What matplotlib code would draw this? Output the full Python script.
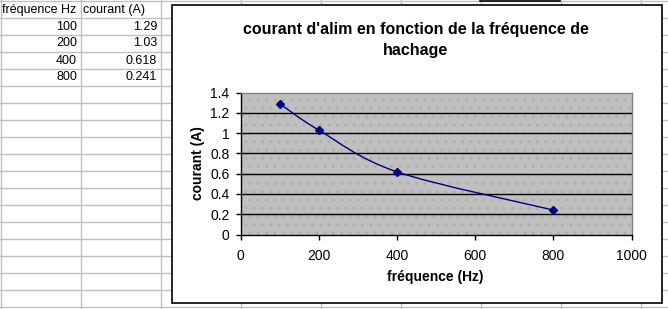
import matplotlib
matplotlib.use("Agg")
import matplotlib.pyplot as plt
from matplotlib.path import Path
from matplotlib.patches import PathPatch, Rectangle
import numpy as np

# ---- data ----
freq = [100, 200, 400, 800]
courant = [1.29, 1.03, 0.618, 0.241]
courant_txt = ["1.29", "1.03", "0.618", "0.241"]
hdr = ["fréquence Hz", "courant (A)"]
title = "courant d'alim en fonction de la fréquence de\nhachage"
xlabel = "fréquence (Hz)"
ylabel = "courant (A)"
xticks = [0, 200, 400, 600, 800, 1000]
yticks = [0, 0.2, 0.4, 0.6, 0.8, 1, 1.2, 1.4]
ytick_labels = ["0", "0.2", "0.4", "0.6", "0.8", "1", "1.2", "1.4"]

plt.rcParams['font.family'] = ['Liberation Sans', 'DejaVu Sans']
plt.rcParams['hatch.linewidth'] = 1.0

W, H = 668, 309
fig = plt.figure(figsize=(W / 100, H / 100), dpi=100)

# background spreadsheet layer in pixel coordinates
bg = fig.add_axes([0, 0, 1, 1])
bg.set_xlim(0, W)
bg.set_ylim(H, 0)
bg.axis('off')
grid_c = '#c0c0c0'
for k in range(0, 19):
    bg.plot([0, W], [17 * k + 0.5, 17 * k + 0.5], color=grid_c, lw=1)
for k in range(0, 9):
    bg.plot([80 * k + 0.5, 80 * k + 0.5], [0, H], color=grid_c, lw=1)
bg.plot([480, 560], [0.5, 0.5], color='black', lw=1.2)

# cell text
fs_cell = 9.0
bg.text(2, 9.5, hdr[0], fontsize=fs_cell, va='center', ha='left')
bg.text(83, 9.5, hdr[1], fontsize=fs_cell, va='center', ha='left')
for i, (f, c) in enumerate(zip(freq, courant_txt)):
    yy = 17 * (i + 1) + 9.5
    bg.text(77, yy, str(f), fontsize=fs_cell, va='center', ha='right')
    bg.text(157, yy, c, fontsize=fs_cell, va='center', ha='right')

# chart area
bg.add_patch(Rectangle((171.5, 4.5), 490, 298.5, facecolor='white',
                       edgecolor='black', lw=1.2, zorder=3))
bg.text(416, 40, title, fontsize=11.5, fontweight='bold', ha='center',
        va='center', linespacing=1.5, zorder=4)
bg.text(435, 277, xlabel, fontsize=10, fontweight='bold', ha='center',
        va='center', zorder=4)
bg.text(198, 163, ylabel, fontsize=10, fontweight='bold', ha='center',
        va='center', rotation=90, zorder=4)

# plot area
l, r, t, b = 240.5, 631.5, 92.5, 234.5
ax = fig.add_axes([l / W, 1 - b / H, (r - l) / W, (b - t) / H])
ax.set_zorder(5)
ax.set_xlim(0, 1000)
ax.set_ylim(0, 1.4)
bgpatch = Rectangle((0, 0), 1, 1, transform=ax.transAxes, facecolor='#c0c0c0',
                    edgecolor='#b0b0b0', hatch='..', lw=0, zorder=0)
ax.add_patch(bgpatch)
ax.set_facecolor('#c0c0c0')
for yv in yticks[1:-1]:
    ax.axhline(yv, color='black', lw=1, zorder=1)
for s in ['top', 'right']:
    ax.spines[s].set_color('#808080')
for s in ['left', 'bottom']:
    ax.spines[s].set_color('black')
for s in ax.spines.values():
    s.set_linewidth(1)
ax.set_xticks(xticks)
ax.set_xticklabels([str(v) for v in xticks], fontsize=10)
ax.set_yticks(yticks)
ax.set_yticklabels(ytick_labels, fontsize=10)
ax.tick_params(direction='out', length=3.5, width=1)
ax.tick_params(axis='x', pad=7)
ax.tick_params(axis='y', pad=4.5)

# smoothed line (Catmull-Rom -> cubic Bezier)
P = np.column_stack([freq, courant]).astype(float)
n = len(P)
verts = [tuple(P[0])]
codes = [Path.MOVETO]
for i in range(n - 1):
    p0 = P[i - 1] if i > 0 else P[i]
    p1 = P[i]
    p2 = P[i + 1]
    p3 = P[i + 2] if i + 2 < n else P[i + 1]
    c1 = p1 + (p2 - p0) / 6
    c2 = p2 - (p3 - p1) / 6
    verts += [tuple(c1), tuple(c2), tuple(p2)]
    codes += [Path.CURVE4] * 3
ax.add_patch(PathPatch(Path(verts, codes), facecolor='none', edgecolor='#000080',
                       lw=1, zorder=3))
ax.plot(freq, courant, linestyle='none', marker='D', markersize=4.5,
        color='#000080', zorder=4)

fig.savefig('out.png', dpi=100)
